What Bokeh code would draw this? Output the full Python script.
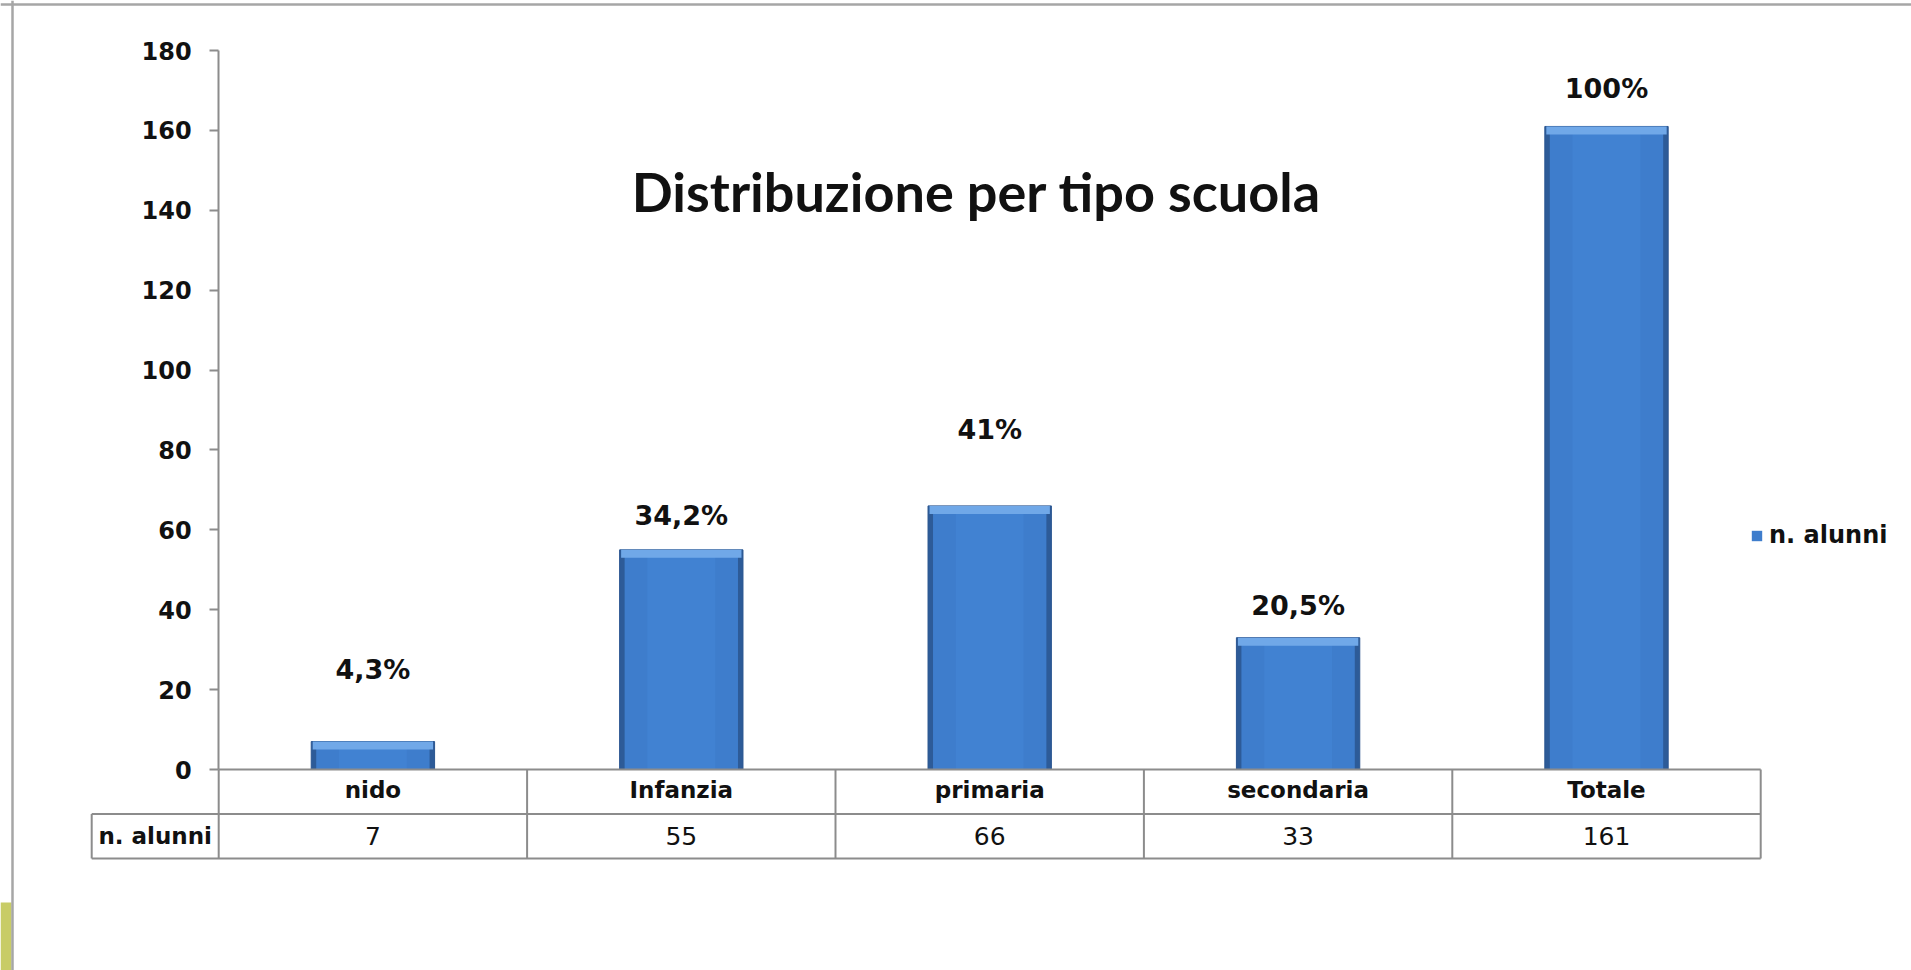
from bokeh.plotting import figure
from bokeh.models import (Range1d, LinearAxis, FixedTicker, Label, Legend,
                          LegendItem, ColumnDataSource, Span, BoxAnnotation)
from bokeh.embed import file_html
from bokeh.resources import INLINE
from bokeh.core.properties import value

# ---------------- data ----------------
categories = ["nido", "Infanzia", "primaria", "secondaria", "Totale"]
alunni = [7, 55, 66, 33, 161]
percent_labels = ["4,3%", "34,2%", "41%", "20,5%", "100%"]
y_ticks = [0, 20, 40, 60, 80, 100, 120, 140, 160, 180]
series_name = "n. alunni"
row_label = "n. alunni"
title_text = "Distribuzione per tipo scuola"

# ---------------- layout / style (pixels) ----------------
W, H = 1911, 970
AXIS_X = 218.2        # y axis position, px from figure left
ZERO_Y = 769.0        # zero line, px from figure top
PX_PER_CAT = 308.4
PX_PER_UNIT = 3.994
ROW_H = 44.5
LEFT_CELL_W = 127.0
BAR_FRAC = 0.4
label_offsets_px = [72, 34, 76, 32, 38]
GRAY = "#8c8c8c"
TXT = "#111111"
SMALL_FONT = "DejaVu Sans"


def ux(px):
    return (px - AXIS_X) / PX_PER_CAT


def vy(py):
    return (ZERO_Y - py) / PX_PER_UNIT


def dx(px):
    return px / PX_PER_CAT


def dy(px):
    return px / PX_PER_UNIT


n = len(categories)
centers = [i + 0.5 for i in range(n)]

p = figure(width=W, height=H, title=None,
           x_range=Range1d(ux(0), ux(W)), y_range=Range1d(vy(H), vy(0)),
           output_backend="svg", toolbar_location=None,
           x_axis_location=None, y_axis_location=None, min_border=0)
p.grid.visible = False
p.outline_line_color = None
p.background_fill_color = "white"
p.border_fill_color = "white"

src = ColumnDataSource(dict(
    x=centers, top=alunni, cat=categories, pct=percent_labels,
    off=[-o for o in label_offsets_px],
    hl_bottom=[v - dy(8) for v in alunni],
    body_top=[v - dy(1) for v in alunni],
))

# ---------------- bars (bevelled look) ----------------
p.vbar(x="x", top="top", bottom=0, width=BAR_FRAC, source=src,
       fill_color="#2d5b98", line_color="#2a5590", line_width=1)
body = p.vbar(x="x", top="body_top", bottom=0, width=BAR_FRAC - dx(10), source=src,
              fill_color="#3e7dcc", line_color=None)
p.vbar(x="x", top="body_top", bottom=0, width=BAR_FRAC * 0.55, source=src,
       fill_color="#4486d6", fill_alpha=0.6, line_color=None)
p.vbar(x="x", top="top", bottom="hl_bottom", width=BAR_FRAC - dx(3), source=src,
       fill_color="#70a8e8", line_color=None)

# percentage labels
p.text(x="x", y="top", text="pct", source=src, y_offset="off",
       text_align="center", text_baseline="middle",
       text_font=value(SMALL_FONT), text_font_style="bold",
       text_font_size="27px", text_color=TXT)

# ---------------- y axis ----------------
yaxis = LinearAxis(fixed_location=0, bounds=(0, max(y_ticks)),
                   ticker=FixedTicker(ticks=y_ticks))
yaxis.axis_line_color = GRAY
yaxis.axis_line_width = 2
yaxis.major_tick_line_color = GRAY
yaxis.major_tick_line_width = 2
yaxis.major_tick_out = 9
yaxis.major_tick_in = 0
yaxis.minor_tick_line_color = None
yaxis.major_label_standoff = 18
yaxis.major_label_text_font = SMALL_FONT
yaxis.major_label_text_font_style = "bold"
yaxis.major_label_text_font_size = "24px"
yaxis.major_label_text_color = TXT
p.add_layout(yaxis, "left")

# ---------------- x axis (category row of the table) ----------------
xaxis = LinearAxis(fixed_location=0, ticker=FixedTicker(ticks=centers),
                   major_label_overrides={c: cat for c, cat in zip(centers, categories)})
xaxis.axis_line_color = None
xaxis.major_tick_line_color = None
xaxis.minor_tick_line_color = None
xaxis.major_tick_out = 0
xaxis.major_tick_in = 0
xaxis.major_label_standoff = 7
xaxis.major_label_text_font = SMALL_FONT
xaxis.major_label_text_font_style = "bold"
xaxis.major_label_text_font_size = "23px"
xaxis.major_label_text_color = TXT
p.add_layout(xaxis, "below")

# ---------------- data table lines ----------------
r1 = -dy(ROW_H)
r2 = -dy(2 * ROW_H)
xl = -dx(LEFT_CELL_W)
x0s, y0s, x1s, y1s = [], [], [], []
for (xa, yy) in [(0, 0), (xl, r1), (xl, r2)]:
    x0s.append(xa); y0s.append(yy); x1s.append(n); y1s.append(yy)
x0s.append(xl); y0s.append(r1); x1s.append(xl); y1s.append(r2)
for i in range(n + 1):
    x0s.append(i); y0s.append(0); x1s.append(i); y1s.append(r2)
p.segment(x0=x0s, y0=y0s, x1=x1s, y1=y1s, line_color=GRAY, line_width=2)

# values row
p.text(x=centers, y=[(r1 + r2) / 2] * n, text=[str(v) for v in alunni],
       text_align="center", text_baseline="middle",
       text_font=value(SMALL_FONT), text_font_size="25px", text_color=TXT)
p.text(x=[xl / 2], y=[(r1 + r2) / 2], text=[row_label],
       text_align="center", text_baseline="middle",
       text_font=value(SMALL_FONT), text_font_style="bold",
       text_font_size="23px", text_color=TXT)

# ---------------- title ----------------
p.add_layout(Label(x=ux(976), y=vy(191), text=title_text,
                   text_align="center", text_baseline="middle",
                   text_font="Lato", text_font_style="bold",
                   text_font_size="54px", text_color=TXT))

# ---------------- legend ----------------
legend = Legend(items=[LegendItem(label=series_name, renderers=[body])],
                location=(1750, 421), orientation="vertical",
                padding=0, margin=0, border_line_color=None,
                background_fill_alpha=0, glyph_width=13, glyph_height=13,
                label_standoff=6, label_text_font=SMALL_FONT,
                label_text_font_style="bold", label_text_font_size="24px",
                label_text_color=TXT)
p.add_layout(legend, "center")

# ---------------- slide frame decoration ----------------
p.add_layout(BoxAnnotation(left=ux(0), right=ux(11), bottom=vy(H), top=vy(902),
                           fill_color="#c8cc66", fill_alpha=1, line_color=None))
p.add_layout(Span(location=ux(12), dimension="height", line_color="#a6a6a6", line_width=2.5))
p.add_layout(Span(location=vy(4), dimension="width", line_color="#a6a6a6", line_width=2.5))

open("out.html", "w").write(file_html(p, INLINE))
